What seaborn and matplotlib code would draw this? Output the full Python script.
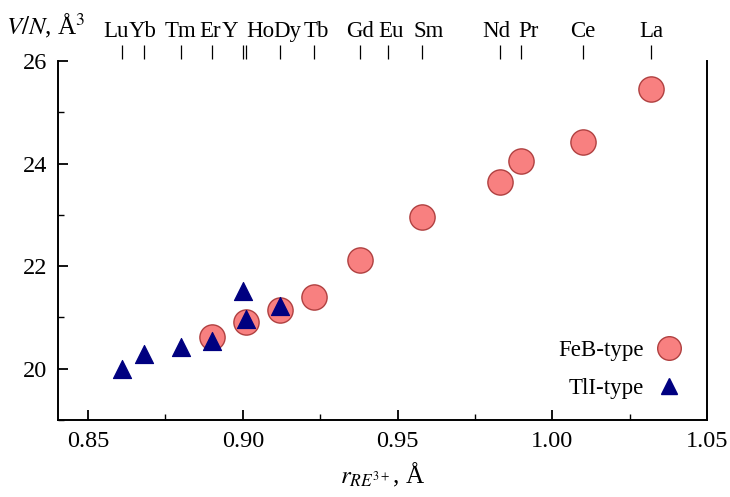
import matplotlib
matplotlib.use("Agg")
import matplotlib.pyplot as plt
import matplotlib.transforms as mtransforms
import seaborn as sns
import pandas as pd
from matplotlib.ticker import MultipleLocator
from matplotlib.lines import Line2D

# Data
feb_r = [0.890, 0.901, 0.912, 0.923, 0.938, 0.958, 0.983, 0.990, 1.010, 1.032]
feb_v = [20.62, 20.92, 21.15, 21.40, 22.12, 22.95, 23.65, 24.05, 24.42, 25.45]
tli_r = [0.861, 0.868, 0.880, 0.890, 0.900, 0.901, 0.912]
tli_v = [20.00, 20.29, 20.42, 20.55, 21.52, 20.97, 21.22]
elements = ["Lu", "Yb", "Tm", "Er", "Y", "Ho", "Dy", "Tb", "Gd", "Eu", "Sm", "Nd", "Pr", "Ce", "La"]
element_r = [0.861, 0.868, 0.880, 0.890, 0.900, 0.901, 0.912, 0.923, 0.938, 0.947, 0.958, 0.983, 0.990, 1.010, 1.032]

sns.set_style("white")
plt.rcParams['font.family'] = ['Liberation Serif', 'DejaVu Serif']
plt.rcParams['mathtext.fontset'] = 'stix'
plt.rcParams['text.color'] = 'black'
plt.rcParams['xtick.color'] = 'black'
plt.rcParams['ytick.color'] = 'black'
plt.rcParams['axes.labelcolor'] = 'black'

fig = plt.figure(figsize=(7.3, 4.97), dpi=100)
ax = fig.add_axes([0.0795, 0.155, 0.889, 0.722])

df_feb = pd.DataFrame({"r": feb_r, "v": feb_v})
df_tli = pd.DataFrame({"r": tli_r, "v": tli_v})
sns.scatterplot(data=df_feb, x="r", y="v", ax=ax, marker="o", s=330,
                color="#F88080", edgecolor="#B04040", linewidth=1.0, zorder=2)
sns.scatterplot(data=df_tli, x="r", y="v", ax=ax, marker="^", s=170,
                color="#000080", edgecolor="#000080", linewidth=0.8, zorder=3)

ax.set_xlim(0.8403, 1.05)
ax.set_ylim(19.0, 26.0)
ax.xaxis.set_major_locator(MultipleLocator(0.05))
ax.xaxis.set_minor_locator(MultipleLocator(0.025))
ax.yaxis.set_major_locator(MultipleLocator(2))
ax.yaxis.set_minor_locator(MultipleLocator(1))
ax.xaxis.set_major_formatter(matplotlib.ticker.FormatStrFormatter('%.2f'))
ax.tick_params(axis='both', which='major', direction='in', length=7, width=1.3,
               labelsize=17.5, bottom=True, left=True, top=False, right=False, pad=8,
               colors='black')
ax.tick_params(axis='both', which='minor', direction='in', length=4, width=1.0,
               bottom=True, left=True, top=False, right=False, colors='black')
for side in ["left", "bottom", "right"]:
    ax.spines[side].set_visible(True)
    ax.spines[side].set_color("black")
    ax.spines[side].set_linewidth(1.4)
ax.spines["top"].set_visible(False)

ax.set_xlabel(r"$r_{RE^{3+}}$, Å", fontsize=18, labelpad=6, color='black')
ax.set_ylabel("")
fig.text(0.008, 0.92, r"$V/N$, Å$^3$", fontsize=18, ha="left", va="bottom", color='black')

# Element ticks above the plot
sec = ax.secondary_xaxis(1.045)
sec.set_xticks(element_r)
sec.set_xticklabels(elements)
sec.spines["top"].set_visible(False)
sec.tick_params(axis='x', direction='in', length=10, width=0.9, labelsize=16.5, pad=2,
                colors='black')
shift_px = {"Lu": -6, "Yb": -1, "Er": -2, "Y": -13, "Ho": 14, "Dy": 7, "Tb": 2,
            "Eu": 3, "Sm": 6, "Nd": -3, "Pr": 7}
for lbl, el in zip(sec.get_xticklabels(), elements):
    dx = shift_px.get(el, 0)
    if dx:
        lbl.set_transform(lbl.get_transform() +
                          mtransforms.ScaledTranslation(dx / 100, 0, fig.dpi_scale_trans))

handles = [
    Line2D([], [], marker="o", linestyle="none", markersize=17,
           markerfacecolor="#F88080", markeredgecolor="#B04040"),
    Line2D([], [], marker="^", linestyle="none", markersize=12,
           markerfacecolor="#000080", markeredgecolor="#000080"),
]
leg = ax.legend(handles, ["FeB-type", "TlI-type"], loc="lower right", frameon=False,
                markerfirst=False, fontsize=16.5, bbox_to_anchor=(0.995, 0.0),
                labelspacing=0.75, handletextpad=0.5, handlelength=1.2)

fig.savefig("out.png", dpi=100)
